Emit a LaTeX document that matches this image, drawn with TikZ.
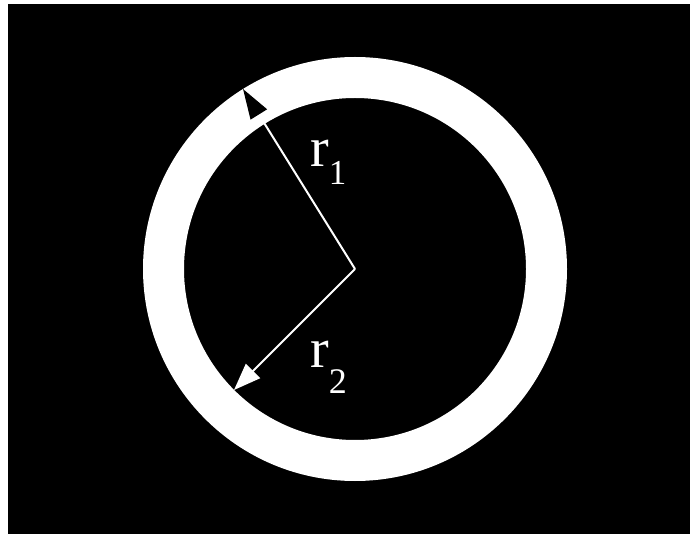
\documentclass[tikz,border=0pt]{standalone}
\usepackage{fontspec}
\setmainfont{Liberation Serif}
\usetikzlibrary{arrows.meta}

\begin{document}
\begin{tikzpicture}[x=1pt,y=-1pt,
  radiusline/.style={white,line width=2pt},
  every node/.style={font=\fontsize{56}{56}\selectfont,text=white,inner sep=0pt}]
  \useasboundingbox (0,0) rectangle (690,534);
  \fill[black] (8,4) rectangle (690,534);

  % ring between r2 and r1
  \coordinate (c) at (355,269);
  \fill[white,even odd rule] (c) circle[radius=212pt] (c) circle[radius=171pt];

  \coordinate (tip1) at (243,89);
  \coordinate (tip2) at (234,390);
  \draw[radiusline,-{Triangle[length=30pt,width=19pt,black]}] (c) -- (tip1);
  \draw[radiusline,-{Triangle[length=27pt,width=20pt,fill=white]}] (c) -- (tip2);

  \node[anchor=base west] (r1) at (310,167)
    {r\raisebox{-18pt}{\fontsize{35}{35}\selectfont 1}};
  \node[anchor=base west] (r2) at (310,367)
    {r\raisebox{-26pt}{\fontsize{36}{36}\selectfont 2}};
\end{tikzpicture}
\end{document}
